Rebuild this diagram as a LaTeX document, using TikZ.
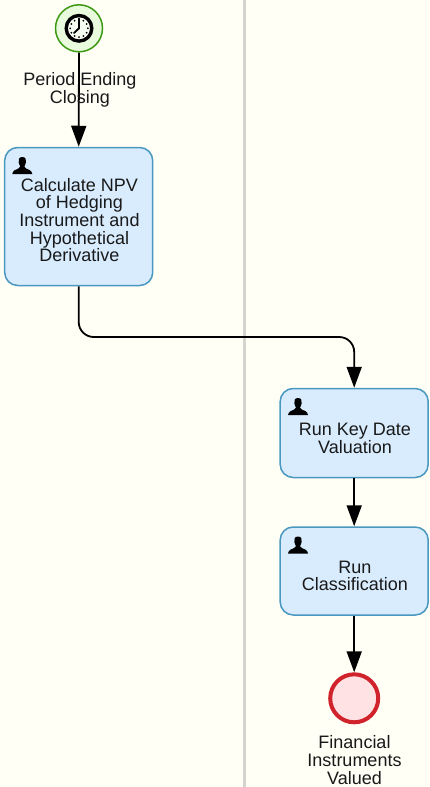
\documentclass[tikz,border=0pt]{standalone}
\usepackage{fontspec}
\setmainfont{Liberation Sans}
\usetikzlibrary{arrows.meta,calc}
\definecolor{pagebg}{HTML}{FFFFF6}
\definecolor{lanecol}{HTML}{D4D4CE}
\definecolor{taskfill}{HTML}{D8ECFE}
\definecolor{taskline}{HTML}{4A98C0}
\definecolor{startfill}{HTML}{E8FBDC}
\definecolor{startline}{HTML}{3E9A14}
\definecolor{endfill}{HTML}{FFE2E4}
\definecolor{endline}{HTML}{D0232B}
\tikzset{
  x=1pt,y=-1pt,
  tasktext/.style={font=\fontsize{18}{17.7}\selectfont,align=center,text=black!90,inner sep=0pt},
  taskbox/.style={draw=taskline,line width=1.5pt,fill=taskfill,rounded corners=13pt,minimum width=148pt,inner sep=0pt},
  startev/.style={circle,draw=startline,line width=1.5pt,fill=startfill,minimum size=47pt,inner sep=0pt},
  endev/.style={circle,draw=endline,line width=4pt,fill=endfill,minimum size=48pt,inner sep=0pt},
  evlabel/.style={font=\fontsize{18}{17.7}\selectfont,align=center,text=black!90,inner sep=0pt},
  flow/.style={draw=black,line width=1.8pt,-{Triangle[length=21pt,width=15pt]},shorten >=0pt},
  usericon/.pic={
    \fill[black] (10,0) .. controls (6.5,0) and (5.8,3) .. (6.4,5.5)
      .. controls (6.8,7.5) and (7.5,8.5) .. (8,9.5)
      .. controls (8,11) and (5,12) .. (2.5,13.2)
      .. controls (1,14) and (0.3,15.3) .. (0,17) -- (20,17)
      .. controls (19.7,15.3) and (19,14) .. (17.5,13.2)
      .. controls (15,12) and (12,11) .. (12,9.5)
      .. controls (12.5,8.5) and (13.2,7.5) .. (13.6,5.5)
      .. controls (14.2,3) and (13.5,0) .. (10,0) -- cycle;
  }
}
\begin{document}
\begin{tikzpicture}
\useasboundingbox (0,0) rectangle (430,787);
\fill[pagebg] (0,0) rectangle (430,787);
\draw[lanecol,line width=3.5pt] (244.5,0) -- (244.5,787);

\node[startev] (start) at (79,28.3) {};
\node[taskbox,minimum height=138pt] (calc) at (78.7,216.5) {};
\node[taskbox,minimum height=89pt] (keydate) at (354.2,433) {};
\node[taskbox,minimum height=88pt] (classif) at (354.2,571) {};
\node[endev] (finish) at (354.2,698.3) {};
\coordinate (bend) at (200,337);

\draw[flow] (start.south) -- (calc.north);
\draw[flow,rounded corners=15pt] (calc.south) -- (calc.south |- bend) -- (keydate.north |- bend) -- (keydate.north);
\draw[flow] (keydate.south) -- (classif.north);
\draw[flow] (classif.south) -- (finish.north);

\node[tasktext] (calctext) at (79.5,220) {Calculate NPV\\of Hedging\\Instrument and\\Hypothetical\\Derivative};
\node[tasktext] (keydatetext) at (355,438.5) {Run Key Date\\Valuation};
\node[tasktext] (classiftext) at (355,576) {Run\\Classification};
\node[evlabel] (startlabel) at (80,89.5) {Period Ending\\Closing};
\node[evlabel] (endlabel) at (354.5,760) {Financial\\Instruments\\Valued};

\pic at (12.3,157) {usericon};
\pic at (288,398) {usericon};
\pic at (288,536.5) {usericon};

% timer symbol
\draw[black,line width=3.4pt,fill=startfill!40!white] (start.center) circle (12.8);
\foreach \a in {0,30,...,330}
  \fill[black] ($(start.center)+(\a:8.8)$) circle (1);
\draw[black,line width=1.8pt,line cap=round] (79,18.5) -- (start.center) -- (74,33);
\end{tikzpicture}
\end{document}
